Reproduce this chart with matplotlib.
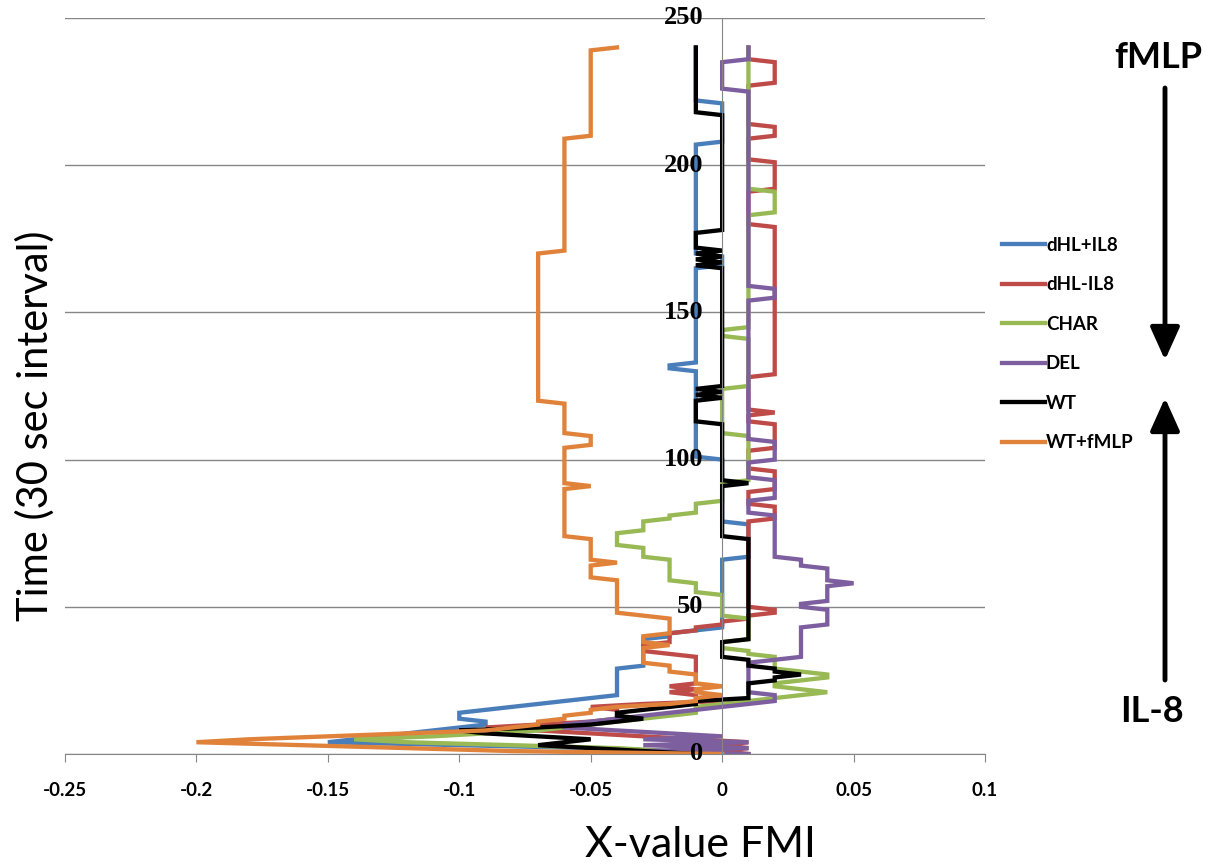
import numpy as np
import matplotlib
matplotlib.use('Agg')
import matplotlib.pyplot as plt

# x-value FMI per 30 s interval, stored as run lengths (value in 1/100, count), t = 0 upward
dhl_il8_vals = [0, -2, -5, -10, -15, -14, -13, -12, -11, -10, -9, -10, -9, -8, -7, -6, -5,
                -4, -3, -2, -1, 0, 1, 0, -1, -2, -1, 0, -1, 0, -1]
dhl_il8_runs = [1, 1, 1, 1, 1, 1, 1, 1, 1, 1, 2, 3, 1, 1, 1, 1, 1,
                10, 10, 2, 1, 24, 12, 22, 30, 2, 33, 4, 38, 14, 19]

dhl_nil8_vals = [1, 0, 1, 0, 1, -1, -3, -5, -7, -9, -7, -5, -4, -5, -3, 0, -1, -2, -1, -2,
                 -1, -2, -3, -2, -1, 0, 1, 2, 1, 2, 1, 2, 1, 2, 1, 2, 1, 2, 1, 2, 1, 2, 1, 2, 1]
dhl_nil8_runs = [1, 1, 1, 1, 1, 1, 1, 1, 1, 1, 1, 1, 4, 1, 1, 1, 2, 1, 1, 1,
                 10, 1, 3, 4, 2, 2, 2, 2, 30, 5, 5, 7, 7, 9, 3, 1, 12, 51, 12, 10, 8, 4, 14, 8, 5]

char_vals = [0, -2, -4, -8, -12, -14, -11, -9, -7, -6, -5, -4, -3, -2, -1,
             0, 1, 2, 3, 4, 3, 2, 3, 4, 3, 2, 1, 0, 1, 0, -1, -2, -3, -4, -3, -2, -1,
             0, 1, 0, 1, 0, 1, 2, 1]
char_runs = [1, 1, 1, 1, 1, 1, 1, 1, 1, 1, 1, 1, 1, 1, 3,
             1, 1, 1, 1, 1, 1, 2, 1, 2, 1, 5, 2, 3, 8, 8, 4, 8, 4, 5, 4, 2, 4,
             7, 16, 16, 17, 3, 39, 8, 49]

del_vals = [1, -3, 1, -3, 1, -3, 0, -2, -4, -6, -5, -4, -3, -2, -1, 0, 1, 2, 1, 2,
            3, 4, 3, 4, 5, 4, 3, 2, 1, 2, 1, 2, 1, 2, 1, 0, 1]
del_runs = [1, 1, 1, 1, 1, 1, 1, 1, 1, 2, 1, 1, 1, 1, 1, 1, 1, 3, 11, 1,
            11, 6, 2, 6, 1, 5, 3, 15, 5, 7, 6, 7, 48, 4, 67, 10, 5]

wt_vals = [-1, -3, -5, -7, -6, -5, -7, -9, -10, -7, -5, -4, -3, -4, -3, -2, -1,
           1, 2, 3, 2, 1, 0, 1, 0, 1, 0, -1, 0, -1, 0, -1, 0, -1, 0, -1, 0, -1, 0, -1, 0, -1]
wt_runs = [1, 1, 1, 1, 1, 1, 1, 1, 1, 1, 1, 1, 1, 2, 1, 1, 2,
           6, 2, 1, 2, 3, 6, 35, 18, 1, 20, 8, 1, 1, 1, 1, 41, 1, 1, 1, 1, 1, 1, 6, 40, 23]

wt_fmlp_vals = [0, -8, -12, -16, -20, -18, -15, -12, -9, -8, -7, -6, -5, -4, -2, -1, 0, -1, 0, -1,
                -2, -3, -2, -3, -2, -3, -4, -5, -4, -5, -6, -5, -6, -5, -6, -7, -6, -5, -4]
wt_fmlp_runs = [1, 1, 1, 1, 1, 1, 1, 1, 1, 1, 2, 2, 2, 1, 1, 2, 1, 2, 1, 4,
                3, 6, 1, 3, 6, 1, 12, 5, 1, 8, 17, 1, 13, 4, 11, 51, 39, 30, 1]

labels = ['dHL+IL8', 'dHL-IL8', 'CHAR', 'DEL', 'WT', 'WT+fMLP']
colors = ['#4A7EBB', '#BE4B48', '#98B954', '#7D5FA0', '#000000', '#E0823A']
series = [(dhl_il8_vals, dhl_il8_runs), (dhl_nil8_vals, dhl_nil8_runs),
          (char_vals, char_runs), (del_vals, del_runs),
          (wt_vals, wt_runs), (wt_fmlp_vals, wt_fmlp_runs)]

xticks = [-0.25, -0.2, -0.15, -0.1, -0.05, 0, 0.05, 0.1]
xticklabels = ['-0.25', '-0.2', '-0.15', '-0.1', '-0.05', '0', '0.05', '0.1']
yticks = [0, 50, 100, 150, 200, 250]

plt.rcParams['font.family'] = ['Lato', 'DejaVu Sans']
grey = '#868686'

fig = plt.figure(figsize=(12.07, 8.65), dpi=100)
ax = fig.add_axes([65/1207, 1 - 754/865, 920/1207, 736/865])

for (vals, runs), lab, col in zip(series, labels, colors):
    x = np.repeat(vals, runs) / 100.
    t = np.arange(len(x))
    ax.plot(x, t, color=col, lw=3.1, label=lab, solid_joinstyle='miter')

ax.set_xlim(-0.25, 0.1)
ax.set_ylim(0, 250)
ax.set_axisbelow(True)
ax.yaxis.grid(True, color=grey, lw=1)
for s in ['top', 'right']:
    ax.spines[s].set_visible(False)
ax.spines['left'].set_position(('data', 0))
ax.spines['left'].set_color(grey)
ax.spines['bottom'].set_color(grey)

ax.set_xticks(xticks)
ax.set_xticklabels(xticklabels, fontsize=13.5, fontweight='bold')
ax.tick_params(axis='x', direction='out', length=6, color=grey, pad=14)

# y labels sit beside the x = 0 axis, on top of the traces
ax.set_yticks(yticks)
ax.set_yticklabels([])
ax.tick_params(axis='y', length=0)
for v in yticks:
    ax.annotate(str(v), (0, v), xytext=(-19, 0), textcoords='offset pixels',
                ha='right', va='center', fontsize=19, fontweight='bold',
                family='Liberation Serif', zorder=10, annotation_clip=False)

fig.text(35/1207, 1 - 426/865, 'Time (30 sec interval)', rotation=90,
         fontsize=30, ha='center', va='center')
fig.text(700/1207, 1 - 826/865, 'X-value FMI', fontsize=31, ha='center', va='top')

ax.legend(loc='upper left', bbox_to_anchor=(985/1207, 1 - 220/865),
          bbox_transform=fig.transFigure, frameon=False,
          prop={'weight': 'bold', 'size': 13.5}, handlelength=2.3,
          handletextpad=0.05, labelspacing=1.2)

fig.text(1158/1207, 1 - 58/865, 'fMLP', fontsize=26, fontweight='bold',
         ha='center', va='center')
fig.text(1152/1207, 1 - 712/865, 'IL-8', fontsize=26, fontweight='bold',
         ha='center', va='center')
for tail, tip in [(88, 360), (680, 398)]:
    fig.patches.append(matplotlib.patches.FancyArrowPatch(
        (1165/1207, 1 - tail/865), (1165/1207, 1 - tip/865), transform=fig.transFigure,
        arrowstyle='-|>,head_length=1.0,head_width=0.45', mutation_scale=20,
        color='black', lw=3.5, shrinkA=0, shrinkB=0))

fig.savefig('out.png', dpi=100)
